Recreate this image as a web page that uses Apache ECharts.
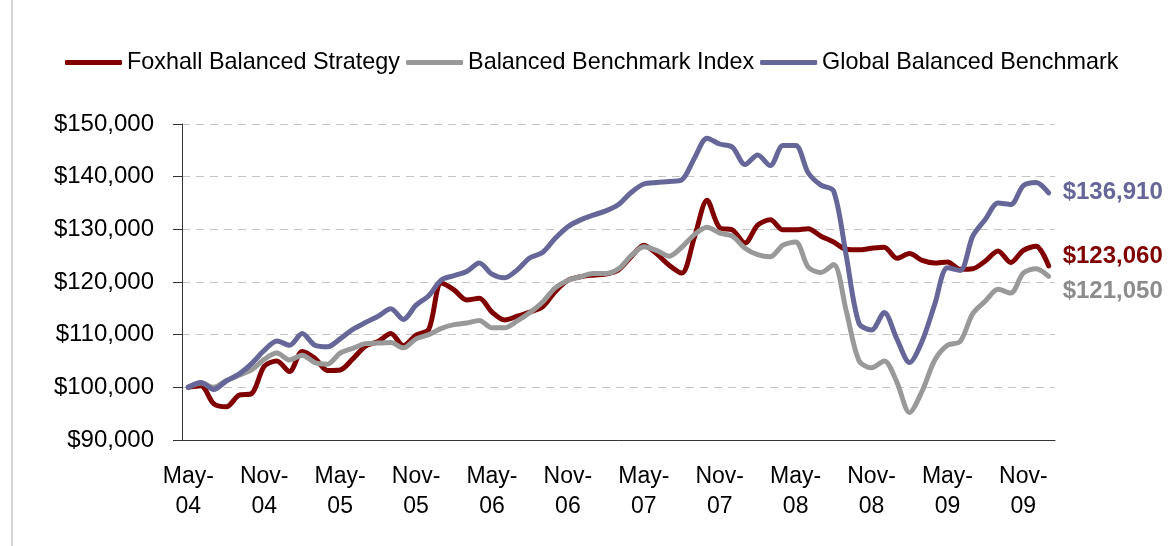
<!DOCTYPE html>
<html>
<head>
<meta charset="utf-8">
<script src="https://cdn.jsdelivr.net/npm/echarts@6/dist/echarts.min.js"></script>
<style>
html,body{margin:0;padding:0;background:#fff;}
#chart{width:1173px;height:546px;}
</style>
</head>
<body>
<div id="chart"></div>
<script>
// Monthly categories May-04 .. Jan-10
const categories = [
 'May-04','Jun-04','Jul-04','Aug-04','Sep-04','Oct-04','Nov-04','Dec-04',
 'Jan-05','Feb-05','Mar-05','Apr-05','May-05','Jun-05','Jul-05','Aug-05','Sep-05','Oct-05','Nov-05','Dec-05',
 'Jan-06','Feb-06','Mar-06','Apr-06','May-06','Jun-06','Jul-06','Aug-06','Sep-06','Oct-06','Nov-06','Dec-06',
 'Jan-07','Feb-07','Mar-07','Apr-07','May-07','Jun-07','Jul-07','Aug-07','Sep-07','Oct-07','Nov-07','Dec-07',
 'Jan-08','Feb-08','Mar-08','Apr-08','May-08','Jun-08','Jul-08','Aug-08','Sep-08','Oct-08','Nov-08','Dec-08',
 'Jan-09','Feb-09','Mar-09','Apr-09','May-09','Jun-09','Jul-09','Aug-09','Sep-09','Oct-09','Nov-09','Dec-09',
 'Jan-10'
];

const seriesNames = ['Foxhall Balanced Strategy', 'Balanced Benchmark Index', 'Global Balanced Benchmark'];

const foxhall = [
 100000,100300,96900,96300,98500,98800,104000,105000,103000,106800,
 105500,103200,103300,105400,107800,108700,110200,107900,109900,111000,
 119800,118500,116600,116900,114300,112800,113500,114300,115300,118200,
 120300,121000,121300,121500,122300,124800,127000,125400,123200,121700,
 128500,135500,130300,129900,127400,130800,131800,129900,129900,130100,
 128700,127600,126200,126100,126400,126600,124500,125400,124100,123600,
 123800,122400,122500,124000,125900,123700,126000,126800,123060
];

const balancedIndex = [
 100000,100800,100000,101300,102300,103300,105300,106500,105200,106100,
 104700,104400,106500,107400,108300,108400,108500,107500,109200,110000,
 111200,111900,112200,112700,111300,111300,112600,114200,116200,118900,
 120300,121000,121600,121600,122500,125000,126700,126000,124900,126600,
 129000,130400,129300,128700,126400,125200,124800,127000,127600,122800,
 121800,123300,114500,105100,103700,105000,101000,95200,99300,105200,
 108000,108700,114000,116400,118600,117900,121700,122500,121050
];

const globalBenchmark = [
 100000,100900,99600,101200,102500,104500,107000,108800,108000,110200,
 108000,107700,109200,111000,112300,113500,114900,112900,115600,117400,
 120400,121200,122000,123600,121500,120800,122300,124600,125600,128300,
 130500,131800,132700,133500,134700,137000,138600,138900,139100,139400,
 143500,147300,146200,145600,142300,144100,142100,145900,145900,140700,
 138400,137300,125000,112200,110900,114200,109200,104700,108800,115800,
 122700,122200,128700,131900,135000,134700,138300,138900,136910
];

const yTicks = { min: 90000, max: 150000, step: 10000 };

const lineColors = ['#800000', '#999999', '#666699'];
const labelColors = ['#800000', '#8c8c8c', '#666699'];
const endOffsets = [[0, -10], [0, 15], [0, -1]];

const FONT = '"Liberation Sans", Arial, Helvetica, sans-serif';
const money = v => '$' + Number(v).toLocaleString('en-US');

const chart = echarts.init(document.getElementById('chart'), null, { renderer: 'canvas' });

const datasets = [foxhall, balancedIndex, globalBenchmark];

chart.setOption({
  animation: false,
  backgroundColor: '#ffffff',
  textStyle: { fontFamily: FONT },
  graphic: [{
    type: 'line', silent: true,
    shape: { x1: 12, y1: 0, x2: 12, y2: 546 },
    style: { stroke: '#d4d4d4', lineWidth: 2 }
  }],
  legend: {
    data: seriesNames,
    left: 65,
    top: 51,
    padding: 0,
    icon: 'roundRect',
    itemWidth: 57,
    itemHeight: 5,
    itemGap: 6,
    textStyle: { fontFamily: FONT, fontSize: 23.4, color: '#000' }
  },
  grid: { left: 182, right: 118, top: 124, bottom: 106, containLabel: false },
  xAxis: {
    type: 'category',
    data: categories,
    boundaryGap: true,
    axisLine: { lineStyle: { color: '#333', width: 1 } },
    axisTick: { interval: 5, length: 7, lineStyle: { color: '#333' } },
    axisLabel: {
      interval: 5,
      margin: 21,
      fontFamily: FONT,
      fontSize: 23,
      lineHeight: 30.6,
      color: '#000',
      formatter: v => v.replace('-', '-\n')
    },
    splitLine: { show: false }
  },
  yAxis: {
    type: 'value',
    min: yTicks.min,
    max: yTicks.max,
    interval: yTicks.step,
    axisLine: { show: true, lineStyle: { color: '#333', width: 1 } },
    axisTick: { show: true, length: 9, lineStyle: { color: '#333' } },
    axisLabel: { margin: 28, fontFamily: FONT, fontSize: 24, color: '#000', formatter: money },
    splitLine: { show: true, lineStyle: { color: '#c4c4c4', type: [8, 6], width: 1 } }
  },
  series: datasets.map((d, i) => ({
    name: seriesNames[i],
    type: 'line',
    data: d,
    smooth: 0.3,
    symbol: 'none',
    showSymbol: false,
    color: lineColors[i],
    lineStyle: { color: lineColors[i], width: 5, cap: 'round', join: 'round' },
    endLabel: {
      show: true,
      distance: 14,
      offset: endOffsets[i],
      fontFamily: FONT,
      fontSize: 24,
      fontWeight: 'bold',
      color: labelColors[i],
      formatter: p => money(p.value)
    },
    emphasis: { disabled: true }
  }))
});
</script>
</body>
</html>
